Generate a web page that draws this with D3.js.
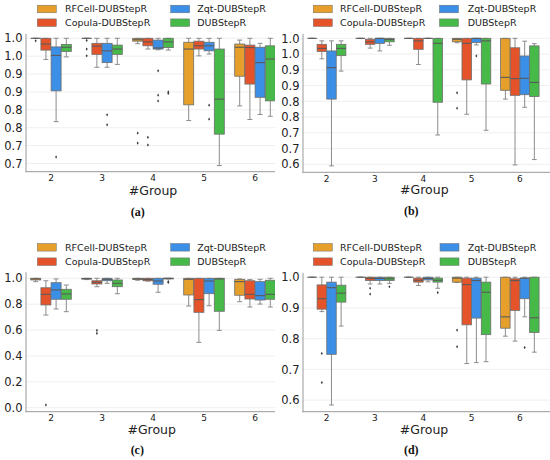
<!DOCTYPE html>
<html>
<head>
<meta charset="utf-8">
<script src="https://cdn.jsdelivr.net/npm/d3@7"></script>
<style>
  body { margin: 0; background: #fff; }
  text { font-family: "DejaVu Sans", sans-serif; }
</style>
</head>
<body>
<script>
// groups on the x axis and the four methods (hue)
const groups = ["2", "3", "4", "5", "6"];
const methods = ["RFCell-DUBStepR", "Copula-DUBStepR", "Zqt-DUBStepR", "DUBStepR"];
const colors = ["#e59f2a", "#e5532b", "#3b8fe6", "#46b948"];

// box stats per group, per method: [low whisker, q1, median, q3, high whisker]
const statsA = [
  [[1, 1, 1, 1, 1], [0.941, 0.967, 0.984, 1, 1], [0.767, 0.853, 0.952, 0.976, 1], [0.948, 0.963, 0.975, 0.983, 1]],
  [[1, 1, 1, 1, 1], [0.919, 0.955, 0.978, 0.986, 1], [0.919, 0.932, 0.965, 0.986, 1], [0.927, 0.955, 0.970, 0.981, 1]],
  [[0.985, 0.992, 0.996, 1, 1], [0.970, 0.979, 0.990, 1, 1], [0.968, 0.970, 0.973, 0.995, 1], [0.967, 0.974, 0.990, 1, 1]],
  [[0.770, 0.814, 0.970, 0.989, 1], [0.951, 0.970, 0.979, 0.992, 1], [0.956, 0.965, 0.979, 0.989, 1], [0.644, 0.732, 0.830, 0.970, 1]],
  [[0.811, 0.894, 0.975, 0.984, 0.995], [0.773, 0.872, 0.974, 0.981, 1], [0.787, 0.835, 0.932, 0.975, 0.986], [0.782, 0.825, 0.942, 0.979, 1]]
];
const statsB = [
  [[1, 1, 1, 1, 1], [0.935, 0.958, 0.968, 0.981, 0.992], [0.595, 0.807, 0.907, 0.960, 0.992], [0.896, 0.945, 0.968, 0.981, 0.992]],
  [[1, 1, 1, 1, 1], [0.969, 0.981, 0.989, 0.997, 1], [0.960, 0.984, 1, 1, 1], [0.978, 0.989, 0.996, 1, 1]],
  [[1, 1, 1, 1, 1], [0.917, 0.965, 0.992, 1, 1], [1, 1, 1, 1, 1], [0.693, 0.797, 0.984, 1, 1]],
  [[0.986, 0.989, 0.997, 1, 1], [0.759, 0.868, 0.984, 1, 1], [0.979, 0.987, 1, 1, 1], [0.708, 0.855, 0.992, 1, 1]],
  [[0.807, 0.835, 0.876, 1, 1], [0.598, 0.819, 0.872, 0.970, 1], [0.781, 0.821, 0.873, 0.944, 0.991], [0.615, 0.815, 0.860, 0.976, 0.983]]
];
const statsC = [
  [[0.974, 0.987, 0.995, 1, 1], [0.716, 0.794, 0.876, 0.927, 0.981], [0.763, 0.838, 0.910, 0.966, 0.995], [0.742, 0.838, 0.879, 0.915, 0.948]],
  [[0.990, 0.994, 0.997, 1, 1], [0.935, 0.956, 0.969, 0.981, 1], [0.961, 0.981, 0.992, 1, 1], [0.881, 0.935, 0.961, 0.987, 1]],
  [[0.985, 0.990, 0.995, 1, 1], [0.978, 0.981, 0.990, 1, 1], [0.892, 0.954, 0.979, 1, 1], [0.995, 0.995, 1, 1, 1]],
  [[0.786, 0.871, 0.992, 1, 1], [0.505, 0.737, 0.835, 1, 1], [0.788, 0.881, 0.979, 1, 1], [0.598, 0.745, 0.995, 1, 1]],
  [[0.819, 0.869, 0.974, 0.992, 0.995], [0.778, 0.840, 0.876, 0.981, 0.990], [0.801, 0.832, 0.866, 0.974, 0.992], [0.778, 0.838, 0.876, 0.985, 1]]
];
const statsD = [
  [[1, 1, 1, 1, 1], [0.888, 0.896, 0.930, 0.975, 1], [0.584, 0.749, 0.966, 0.984, 1], [0.841, 0.919, 0.948, 0.974, 1]],
  [[1, 1, 1, 1, 1], [0.978, 0.989, 0.996, 1, 1], [0.978, 0.989, 0.996, 1, 1], [0.980, 0.989, 0.995, 1, 1]],
  [[1, 1, 1, 1, 1], [0.973, 0.984, 0.990, 0.997, 1], [0.985, 0.991, 0.996, 1, 1], [0.964, 0.984, 0.990, 0.997, 1]],
  [[0.983, 0.984, 0.997, 1, 1], [0.719, 0.845, 0.976, 0.997, 1], [0.722, 0.867, 0.989, 0.997, 1], [0.725, 0.813, 0.951, 0.984, 1]],
  [[0.808, 0.834, 0.871, 1, 1], [0.792, 0.892, 0.989, 0.995, 1], [0.871, 0.930, 0.997, 0.997, 1], [0.756, 0.820, 0.868, 1, 1]]
];

// outliers: [group index, method index, value]
const fliersA = [[0, 0, 0.993], [0, 2, 0.668], [1, 0, 0.994], [1, 0, 0.970], [1, 0, 0.951], [1, 2, 0.786], [1, 2, 0.758],
  [2, 0, 0.735], [2, 0, 0.707], [2, 1, 0.723], [2, 1, 0.702], [2, 2, 0.909], [2, 2, 0.841], [2, 2, 0.825],
  [2, 3, 0.850], [2, 3, 0.846], [3, 2, 0.813], [3, 2, 0.774]];
const fliersB = [[3, 0, 0.827], [3, 0, 0.778], [3, 2, 0.944]];
const fliersC = [[0, 1, 0.021], [1, 1, 0.598], [1, 1, 0.575], [2, 3, 0.975], [2, 3, 0.968]];
const fliersD = [[0, 1, 0.752], [0, 1, 0.657], [1, 1, 0.964], [1, 1, 0.945], [1, 3, 0.969], [2, 3, 0.950],
  [3, 0, 0.828], [3, 0, 0.774], [4, 2, 0.771]];

// y ticks and their labels as printed
const ticksA = [1.0, 0.95, 0.9, 0.85, 0.8, 0.75, 0.7, 0.65];
const labelsA = ["1.0", "1.0", "0.9", "0.9", "0.8", "0.8", "0.7", "0.7"];
const ticksB = [1.0, 0.95, 0.9, 0.85, 0.8, 0.75, 0.7, 0.65, 0.6];
const labelsB = ["1.0", "1.0", "0.9", "0.9", "0.8", "0.8", "0.7", "0.7", "0.6"];
const ticksC = [1.0, 0.8, 0.6, 0.4, 0.2, 0.0];
const labelsC = ["1.0", "0.8", "0.6", "0.4", "0.2", "0.0"];
const ticksD = [1.0, 0.9, 0.8, 0.7, 0.6];
const labelsD = ["1.0", "0.9", "0.8", "0.7", "0.6"];

const svg = d3.select("body")
  .append("svg")
  .attr("width", 550)
  .attr("height", 460);

const edge = "#6e6e6e";

function drawPanel(p, stats, fliers, ticks, tickLabels) {
  svg.append("clipPath")
    .attr("id", "clip-" + p.id)
    .append("rect")
    .attr("x", p.clip[0]).attr("y", p.clip[1])
    .attr("width", p.clip[2]).attr("height", p.clip[3]);

  const x = d3.scaleBand().domain(groups).range(p.xRange);
  const xm = d3.scaleBand().domain(methods)
    .range([x.bandwidth() * 0.1, x.bandwidth() * 0.9]);
  const y = d3.scaleLinear().domain(p.yDomain).range(p.yRange);

  const g = svg.append("g").attr("clip-path", `url(#clip-${p.id})`);

  // 网格线
  g.selectAll(".grid")
    .data(ticks)
    .enter()
    .append("line")
    .attr("x1", p.xRange[0])
    .attr("x2", p.xRange[1] + 10)
    .attr("y1", d => y(d))
    .attr("y2", d => y(d))
    .attr("stroke", "#ebebeb")
    .attr("stroke-width", 0.8);

  // x axis
  const xa = g.append("g")
    .attr("transform", `translate(0,${p.yRange[0]})`)
    .call(d3.axisBottom(x).tickSize(0).tickSizeOuter(0).tickPadding(3));
  xa.select(".domain").attr("stroke", "#999").attr("d", `M${p.xRange[0]},0H${p.xRange[1] + 10}`);
  xa.selectAll("text").attr("font-size", 9).attr("fill", "#222");

  // y axis
  const ya = svg.append("g")
    .attr("transform", `translate(${p.xRange[0]},0)`)
    .call(d3.axisLeft(y).tickValues(ticks).tickFormat((d, i) => tickLabels[i])
      .tickSize(0).tickSizeOuter(0).tickPadding(3));
  ya.select(".domain").attr("stroke", "#999");
  ya.selectAll("text").attr("font-size", 11.5).attr("fill", "#222");

  // boxes
  const boxes = [];
  stats.forEach((row, gi) => row.forEach((s, mi) => boxes.push({ gi, mi, s })));
  const bw = xm.bandwidth() * 0.98;
  const cx = d => x(groups[d.gi]) + xm(methods[d.mi]) + xm.bandwidth() / 2;

  const box = g.selectAll(".box")
    .data(boxes)
    .enter()
    .append("g");

  box.append("line")
    .attr("x1", cx).attr("x2", cx)
    .attr("y1", d => y(d.s[4])).attr("y2", d => y(d.s[3]))
    .attr("stroke", "#8c8c8c").attr("stroke-width", 1);
  box.append("line")
    .attr("x1", cx).attr("x2", cx)
    .attr("y1", d => y(d.s[1])).attr("y2", d => y(d.s[0]))
    .attr("stroke", "#8c8c8c").attr("stroke-width", 1);
  [0, 4].forEach(k => {
    box.append("line")
      .attr("x1", d => cx(d) - bw / 4).attr("x2", d => cx(d) + bw / 4)
      .attr("y1", d => y(d.s[k])).attr("y2", d => y(d.s[k]))
      .attr("stroke", "#8c8c8c").attr("stroke-width", 1);
  });
  box.append("rect")
    .attr("x", d => cx(d) - bw / 2)
    .attr("width", bw)
    .attr("y", d => y(d.s[3]))
    .attr("height", d => y(d.s[1]) - y(d.s[3]))
    .attr("fill", d => colors[d.mi])
    .attr("stroke", edge)
    .attr("stroke-width", 0.8);
  box.append("line")
    .attr("x1", d => cx(d) - bw / 2).attr("x2", d => cx(d) + bw / 2)
    .attr("y1", d => y(d.s[2])).attr("y2", d => y(d.s[2]))
    .attr("stroke", "#5a5a5a").attr("stroke-width", 1.1);

  // outliers
  g.selectAll(".flier")
    .data(fliers)
    .enter()
    .append("path")
    .attr("transform", d => `translate(${cx({ gi: d[0], mi: d[1] })},${y(d[2])})`)
    .attr("d", "M0,-1.6L1,0L0,1.6L-1,0Z")
    .attr("fill", "#3a3a3a");

  // legend
  methods.forEach((m, i) => {
    const col = Math.floor(i / 2), row = i % 2;
    const ly = p.legendY[row];
    svg.append("rect")
      .attr("x", p.patchX[col]).attr("y", ly - 3.8)
      .attr("width", 19).attr("height", 7.6)
      .attr("fill", colors[i])
      .attr("stroke", edge).attr("stroke-width", 0.5);
    svg.append("text")
      .attr("x", p.textX[col]).attr("y", ly)
      .attr("dy", "0.35em")
      .attr("font-size", 9.5)
      .attr("fill", "#222")
      .text(m);
  });

  svg.append("text")
    .attr("x", p.xLabel[0]).attr("y", p.xLabel[1])
    .attr("dy", "0.35em")
    .attr("text-anchor", "middle")
    .attr("font-size", 12.5)
    .attr("fill", "#222")
    .text("#Group");

  svg.append("text")
    .attr("x", p.caption[0]).attr("y", p.caption[1])
    .attr("dy", "0.35em")
    .attr("text-anchor", "middle")
    .style("font-family", "'Liberation Serif', serif")
    .attr("font-weight", "bold")
    .attr("font-size", 12)
    .attr("fill", "#111")
    .text(p.label);
}

drawPanel({ id: "a", label: "(a)", xRange: [25.5, 280.5], yDomain: [0.627, 1.014], yRange: [171.7, 33.3],
  clip: [25, 0, 250, 230], legendY: [9, 22.7], patchX: [37.3, 170.7], textX: [65, 197.3],
  xLabel: [153, 190.7], caption: [137.7, 212] }, statsA, fliersA, ticksA, labelsA);

drawPanel({ id: "b", label: "(b)", xRange: [302.5, 544], yDomain: [0.5746, 1.016], yRange: [172.3, 33.3],
  clip: [302, 0, 248, 230], legendY: [9, 22.7], patchX: [313.3, 439.5], textX: [340, 467.7],
  xLabel: [424.3, 190], caption: [411.3, 211] }, statsB, fliersB, ticksB, labelsB);

drawPanel({ id: "c", label: "(c)", xRange: [25.5, 280.5], yDomain: [-0.031, 1.051], yRange: [411.7, 271.7],
  clip: [25, 230, 250, 230], legendY: [247.3, 261.7], patchX: [37.3, 170.7], textX: [65, 197.3],
  xLabel: [151.7, 429.3], caption: [137.3, 450] }, statsC, fliersC, ticksC, labelsC);

drawPanel({ id: "d", label: "(d)", xRange: [302.5, 544], yDomain: [0.5622, 1.016], yRange: [411.7, 272.3],
  clip: [302, 230, 248, 230], legendY: [247.3, 261.7], patchX: [313.3, 440], textX: [340, 467.7],
  xLabel: [424, 429.3], caption: [411.3, 450] }, statsD, fliersD, ticksD, labelsD);
</script>
</body>
</html>
